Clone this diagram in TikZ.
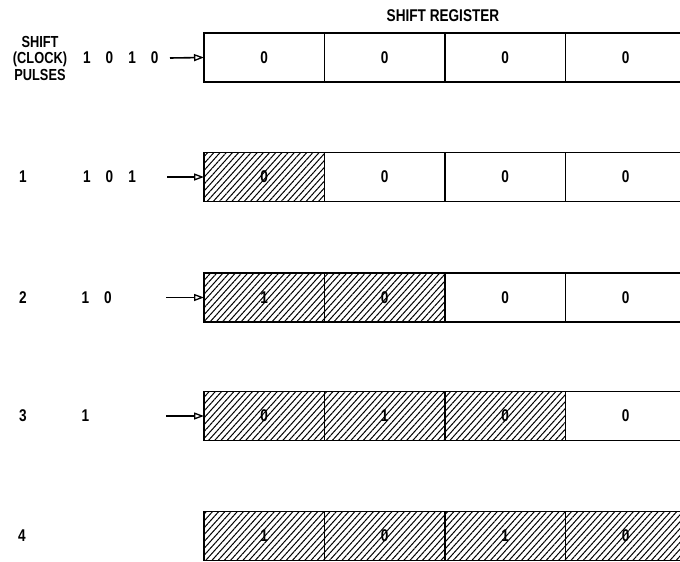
\documentclass[tikz,border=0pt]{standalone}
\usepackage{fontspec}
\setmainfont{Liberation Sans}[FakeStretch=0.8]
\usetikzlibrary{patterns.meta,arrows.meta}
\tikzset{
  cell/.style={draw, line width=1.8pt, minimum width=120.5pt, minimum height=49pt,
    inner sep=0pt, outer sep=0pt, font=\bfseries\fontsize{17}{17}\selectfont},
  hatched/.style={cell, pattern={Lines[angle=48,distance=4.6pt,line width=1pt]}},
  lbl/.style={inner sep=0pt, font=\bfseries\fontsize{17}{17}\selectfont},
  feed/.style={line width=1.6pt, -{Triangle[open, length=10pt, width=7pt, line width=1.3pt]}}
}
\begin{document}
\begin{tikzpicture}[x=1pt,y=-1pt]
\useasboundingbox (0,0) rectangle (680,562);
\clip (0,0) rectangle (680,562);
% header
\node[lbl] (title) at (443,16) {SHIFT REGISTER};
\node[lbl, align=center, font=\bfseries\fontsize{16}{16.5}\selectfont] (pulses) at (40,58) {SHIFT\\(CLOCK)\\PULSES};
% row 0
\node[cell] (r0c1) at (264.25,57.5) {0};
\node[cell] (r0c2) at (384.75,57.5) {0};
\node[cell] (r0c3) at (505.25,57.5) {0};
\node[cell] (r0c4) at (625.75,57.5) {0};
\node[lbl, anchor=west] (in0) at (83,58) {1\hspace{15pt}0\hspace{15pt}1\hspace{15pt}0};
\coordinate (a0) at (170,58);
\draw[feed] (a0) -- (r0c1.west);
% row 1
\node[lbl] (n1) at (23,177) {1};
\node[hatched] (r1c1) at (264.25,177) {0};
\node[cell] (r1c2) at (384.75,177) {0};
\node[cell] (r1c3) at (505.25,177) {0};
\node[cell] (r1c4) at (625.75,177) {0};
\node[lbl, anchor=west] (in1) at (83,177) {1\hspace{15pt}0\hspace{15pt}1};
\coordinate (a1) at (167,177);
\draw[feed] (a1) -- (r1c1.west);
% row 2
\node[lbl] (n2) at (23,297.5) {2};
\node[hatched] (r2c1) at (264.25,297.5) {1};
\node[hatched] (r2c2) at (384.75,297.5) {0};
\node[cell] (r2c3) at (505.25,297.5) {0};
\node[cell] (r2c4) at (625.75,297.5) {0};
\node[lbl, anchor=west] (in2) at (81.5,297.5) {1\hspace{15pt}0};
\coordinate (a2) at (166,297.5);
\draw[feed] (a2) -- (r2c1.west);
% row 3
\node[lbl] (n3) at (23,416) {3};
\node[hatched] (r3c1) at (264.25,416) {0};
\node[hatched] (r3c2) at (384.75,416) {1};
\node[hatched] (r3c3) at (505.25,416) {0};
\node[cell] (r3c4) at (625.75,416) {0};
\node[lbl, anchor=west] (in3) at (81.5,416) {1};
\coordinate (a3) at (166,416);
\draw[feed] (a3) -- (r3c1.west);
% row 4
\node[lbl] (n4) at (22,536) {4};
\node[hatched] (r4c1) at (264.25,536) {1};
\node[hatched] (r4c2) at (384.75,536) {0};
\node[hatched] (r4c3) at (505.25,536) {1};
\node[hatched] (r4c4) at (625.75,536) {0};
\end{tikzpicture}
\end{document}
